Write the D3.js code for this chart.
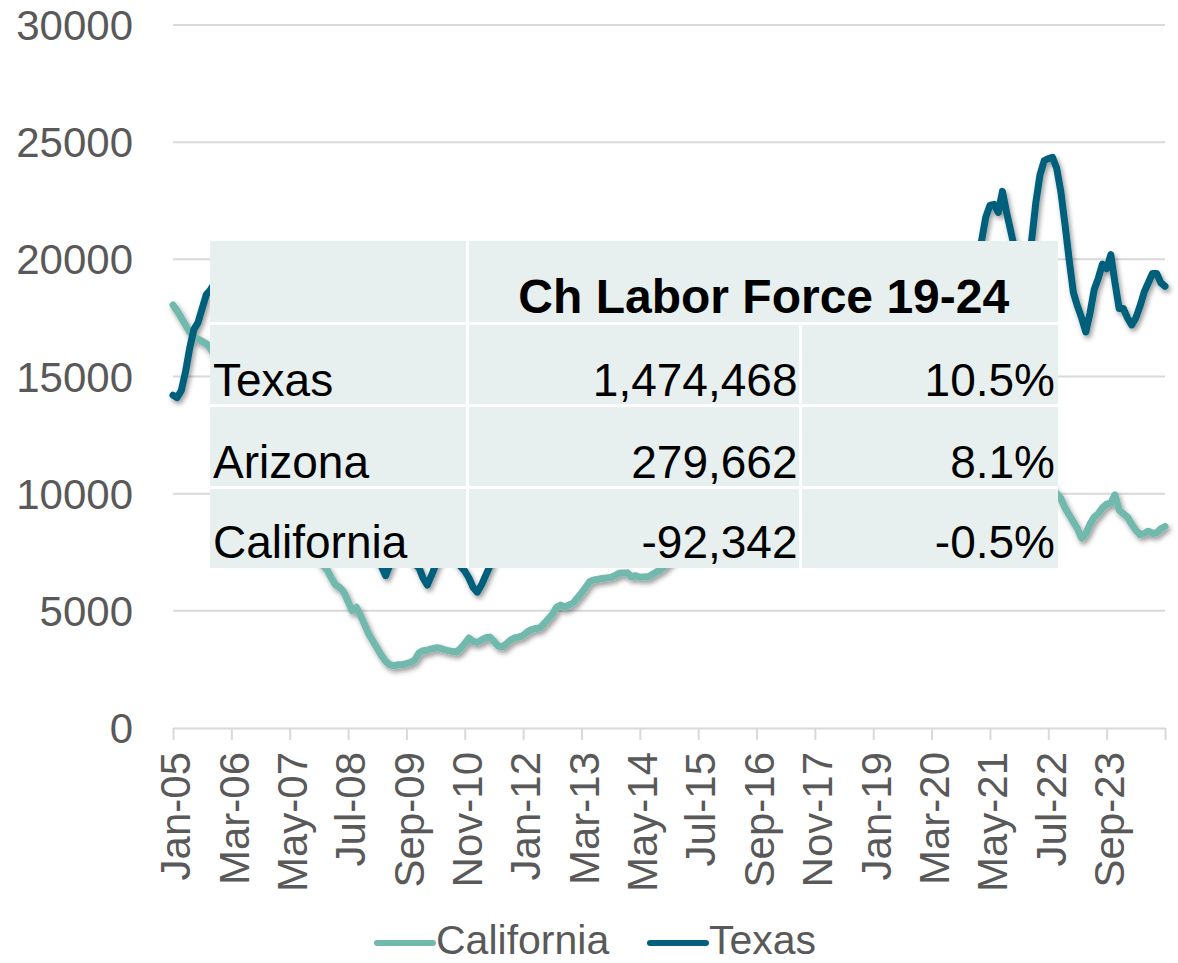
<!DOCTYPE html>
<html>
<head>
<meta charset="utf-8">
<script src="https://cdn.jsdelivr.net/npm/d3@7"></script>
<style>
  html, body { margin: 0; padding: 0; background: #fff; }
  svg { display: block; font-family: "Liberation Sans", Arial, sans-serif; }
</style>
</head>
<body>
<div class="chart"></div>
<script>
// monthly categories Jan-05 .. Nov-24
const months = d3.timeMonth.range(new Date(2005, 0, 1), new Date(2024, 11, 1));
const categories = months.map(d3.timeFormat('%b-%y'));

const tickLabels = ['Jan-05', 'Mar-06', 'May-07', 'Jul-08', 'Sep-09', 'Nov-10', 'Jan-12', 'Mar-13',
  'May-14', 'Jul-15', 'Sep-16', 'Nov-17', 'Jan-19', 'Mar-20', 'May-21', 'Jul-22', 'Sep-23'];
const yTicks = [0, 5000, 10000, 15000, 20000, 25000, 30000];

const california = [
  18050, 17800, 17500, 17200, 16900, 16700, 16600, 16500, 16400, 16200, 15900, 15500, // 2005
  15100, 14700, 14300, 13900, 13500, 13100, 12700, 12300, 11900, 11500, 11200, 10900, // 2006
  10600, 10200, 9900, 9500, 9200, 8900, 8600, 8300, 8000, 7700, 7500, 7200,            // 2007
  6950, 6750, 6400, 6100, 6000, 5800, 5400, 5000, 5150, 4800, 4400, 4000,              // 2008
  3700, 3400, 3100, 2850, 2700, 2650, 2700, 2700, 2750, 2800, 2900, 3200,              // 2009
  3300, 3320, 3380, 3420, 3410, 3350, 3300, 3270, 3240, 3400, 3600, 3840,              // 2010
  3700, 3650, 3750, 3850, 3880, 3700, 3500, 3460, 3600, 3750, 3850, 3880,              // 2011
  3950, 4100, 4200, 4250, 4270, 4450, 4650, 4850, 5150, 5250, 5150, 5250,              // 2012
  5330, 5550, 5760, 6000, 6250, 6320, 6350, 6380, 6400, 6420, 6500, 6600,              // 2013
  6610, 6620, 6450, 6500, 6430, 6450, 6440, 6550, 6660, 6750, 6900, 7100,              // 2014
  7200, 7350, 7500, 7650, 7800, 7950, 8100, 8250, 8350, 8500, 8600, 8750,              // 2015
  8850, 8950, 9100, 9200, 9300, 9400, 9500, 9600, 9700, 9750, 9850, 9900,              // 2016
  10000, 10100, 10150, 10250, 10300, 10400, 10450, 10500, 10600, 10650, 10700, 10800,  // 2017
  10850, 10900, 10950, 11000, 11050, 11100, 11150, 11200, 11250, 11300, 11350, 11400,  // 2018
  11400, 11450, 11500, 11450, 11500, 11550, 11500, 11450, 11400, 11350, 11300, 11250,  // 2019
  11200, 11100, 10500, 9000, 8500, 9200, 9800, 10300, 10700, 11000, 11300, 11500,      // 2020
  11700, 11900, 12100, 12300, 12400, 12500, 12600, 12500, 12400, 12300, 12100, 11900,  // 2021
  11700, 11500, 11300, 11100, 10900, 10600, 10400, 10200, 10000, 9800, 9400, 9100,     // 2022
  8800, 8500, 8100, 8300, 8700, 9000, 9150, 9400, 9550, 9600, 9950, 9300,              // 2023
  9150, 9000, 8700, 8450, 8250, 8300, 8400, 8300, 8330, 8500, 8600                     // 2024
];

const texas = [
  14200, 14100, 14400, 15200, 16200, 17000, 17300, 17900, 18500, 18700, 19000, 19300,  // 2005
  19600, 19900, 19600, 19900, 20300, 20000, 19500, 19800, 19200, 18700, 18900, 18300,  // 2006
  17800, 17200, 17500, 16600, 15900, 15300, 14800, 14100, 13500, 12800, 12200, 11600,  // 2007
  11000, 10500, 10100, 9700, 9200, 8800, 8400, 8100, 7800, 7600, 7500, 7300,           // 2008
  7600, 7200, 6900, 6500, 6950, 7400, 7700, 7800, 7600, 7300, 7000, 6850,              // 2009
  6400, 6100, 6500, 6950, 7300, 7500, 7600, 7400, 7200, 6900, 6700, 6400,              // 2010
  6000, 5800, 6100, 6500, 6900, 7500, 8100, 8600, 9000, 9300, 9700, 10000,             // 2011
  10300, 10700, 11000, 11300, 11100, 11500, 11800, 12100, 12400, 12200, 12600, 12900,  // 2012
  13100, 13400, 13300, 13700, 14000, 14300, 14100, 14500, 14800, 15100, 14900, 15300,  // 2013
  15600, 15900, 16100, 15800, 16300, 16600, 16900, 17100, 16800, 17300, 17500, 17200,  // 2014
  17000, 16700, 16300, 15900, 15600, 15200, 14900, 14600, 14300, 14100, 13900, 13700,  // 2015
  13500, 13300, 13600, 13400, 13200, 13500, 13800, 13600, 13900, 14200, 14000, 14300,  // 2016
  14500, 14800, 14600, 15000, 15300, 15100, 15500, 15800, 15600, 15900, 16200, 16000,  // 2017
  16300, 16600, 16400, 16800, 17100, 16900, 17200, 17500, 17300, 17600, 17400, 17700,  // 2018
  17500, 17800, 17600, 17300, 17500, 17200, 17400, 17100, 16900, 17200, 17000, 16800,  // 2019
  16600, 16900, 15500, 12000, 11000, 12500, 14000, 15200, 16300, 17200, 18100, 18900,  // 2020
  19500, 20100, 20800, 21800, 22300, 22350, 22000, 22900, 22000, 21200, 20400, 19800,  // 2021
  19300, 19800, 20800, 22400, 23600, 24200, 24300, 24350, 23900, 22900, 21500, 20000,  // 2022
  18600, 18000, 17500, 16900, 17700, 18700, 19200, 19800, 19600, 20200, 19000, 17900,  // 2023
  17900, 17500, 17200, 17500, 18000, 18600, 19000, 19400, 19400, 19000, 18850          // 2024
];

const seriesNames = ['California', 'Texas'];
const seriesColors = ['#70B9AC', '#04617B'];

// overlay table
const tableTitle = 'Ch Labor Force 19-24';
const tableStates = ['Texas', 'Arizona', 'California'];
const tableChange = [1474468, 279662, -92342];
const tablePct = [0.105, 0.081, -0.005];

const W = 1178, H = 963;
const plotLeft = 173, plotRight = 1165, plotTop = 25, plotBottom = 728;

const svg = d3.select('.chart').append('svg')
  .attr('width', W)
  .attr('height', H);

const defs = svg.append('defs');
defs.append('filter')
  .attr('id', 'shadow')
  .attr('x', '-5%').attr('y', '-5%').attr('width', '110%').attr('height', '115%')
  .append('feDropShadow')
  .attr('dx', 2).attr('dy', 3).attr('stdDeviation', 2.5)
  .attr('flood-color', '#000').attr('flood-opacity', 0.4);

const x = d3.scalePoint(categories, [plotLeft, plotRight]);
const y = d3.scaleLinear([0, 30000], [plotBottom, plotTop]);

// gridlines
svg.append('g')
  .selectAll('line')
  .data(yTicks.filter(d => d > 0))
  .enter()
  .append('line')
  .attr('x1', plotLeft).attr('x2', plotRight)
  .attr('y1', d => y(d)).attr('y2', d => y(d))
  .attr('stroke', '#D9D9D9')
  .attr('stroke-width', 2);

// y labels
svg.append('g')
  .selectAll('text')
  .data(yTicks)
  .enter()
  .append('text')
  .attr('x', 133)
  .attr('y', d => y(d))
  .attr('dy', '0.36em')
  .attr('text-anchor', 'end')
  .attr('fill', '#595959')
  .style('font-size', '42px')
  .text(d => d);

// x axis
const lastCat = categories[categories.length - 1];
const xAxis = svg.append('g')
  .attr('transform', `translate(0,${plotBottom})`)
  .call(d3.axisBottom(x)
    .tickValues(tickLabels.concat([lastCat]))
    .tickSize(12)
    .tickSizeOuter(0)
    .tickFormat(d => (d === lastCat ? '' : d)));
xAxis.select('.domain').attr('stroke', '#D9D9D9').attr('stroke-width', 2);
xAxis.selectAll('.tick line').attr('stroke', '#D9D9D9').attr('stroke-width', 2);
xAxis.selectAll('.tick text')
  .attr('transform', 'rotate(-90)')
  .attr('text-anchor', 'end')
  .attr('x', -24)
  .attr('y', 0)
  .attr('dy', '0.4em')
  .attr('fill', '#595959')
  .style('font-size', '42px')
  .style('font-family', '"Liberation Sans", Arial, sans-serif');

// lines
const line = d3.line()
  .x((d, i) => x(categories[i]))
  .y(d => y(d));

svg.append('g')
  .attr('filter', 'url(#shadow)')
  .selectAll('path')
  .data([california, texas])
  .enter()
  .append('path')
  .attr('d', d => line(d))
  .attr('fill', 'none')
  .attr('stroke', (d, i) => seriesColors[i])
  .attr('stroke-width', 7)
  .attr('stroke-linejoin', 'round')
  .attr('stroke-linecap', 'round');

// table overlay
const locale = d3.formatLocale({ decimal: '.', thousands: ',', grouping: [3], currency: ['$', ''], minus: '-' });
const fmtNum = locale.format(',');
const fmtPct = locale.format('.1%');

const tX = [210, 467.5, 800.5, 1058];
const tY = [241, 323.5, 405.5, 487.5, 568];
const gap = 1.5;
const table = svg.append('g');
table.append('rect')
  .attr('x', tX[0]).attr('y', tY[0])
  .attr('width', tX[3] - tX[0]).attr('height', tY[4] - tY[0])
  .attr('fill', '#fff');

const cells = [];
cells.push({ x0: tX[0], x1: tX[1], r: 0 });
cells.push({ x0: tX[1], x1: tX[3], r: 0 });
for (let r = 1; r <= 3; r++) {
  for (let c = 0; c < 3; c++) cells.push({ x0: tX[c], x1: tX[c + 1], r });
}
table.selectAll('rect.cell')
  .data(cells)
  .enter()
  .append('rect')
  .attr('class', 'cell')
  .attr('x', d => (d.x0 === tX[0] ? d.x0 : d.x0 + gap))
  .attr('y', d => (d.r === 0 ? tY[0] : tY[d.r] + gap))
  .attr('width', d => (d.x1 - d.x0) - (d.x0 === tX[0] ? 0 : gap) - (d.x1 === tX[3] ? 0 : gap))
  .attr('height', d => (tY[d.r + 1] - tY[d.r]) - (d.r === 0 ? 0 : gap) - (d.r === 3 ? 0 : gap))
  .attr('fill', '#E8F0EF');

table.append('text')
  .attr('x', (tX[1] + tX[3]) / 2 + 1)
  .attr('y', tY[1] - 11)
  .attr('text-anchor', 'middle')
  .attr('font-weight', 'bold')
  .style('font-size', '48px')
  .attr('fill', '#000')
  .text(tableTitle);

const rows = table.selectAll('g.row')
  .data(tableStates)
  .enter()
  .append('g')
  .attr('class', 'row')
  .style('font-size', '46px')
  .attr('fill', '#000');
rows.append('text')
  .attr('x', 213)
  .attr('y', (d, i) => tY[i + 2] - 10)
  .text(d => d);
rows.append('text')
  .attr('x', tX[2] - 3)
  .attr('y', (d, i) => tY[i + 2] - 10)
  .attr('text-anchor', 'end')
  .text((d, i) => fmtNum(tableChange[i]));
rows.append('text')
  .attr('x', tX[3] - 3)
  .attr('y', (d, i) => tY[i + 2] - 10)
  .attr('text-anchor', 'end')
  .text((d, i) => fmtPct(tablePct[i]));

// legend
const legendX = [377, 650];
const legend = svg.append('g')
  .selectAll('g')
  .data(seriesNames)
  .enter()
  .append('g')
  .attr('transform', (d, i) => `translate(${legendX[i]},943)`);
legend.append('line')
  .attr('x1', 0).attr('x2', 56)
  .attr('stroke', (d, i) => seriesColors[i])
  .attr('stroke-width', 6)
  .attr('stroke-linecap', 'round');
legend.append('text')
  .attr('x', 59)
  .attr('y', 11)
  .attr('fill', '#595959')
  .style('font-size', '41px')
  .text(d => d);
</script>
</body>
</html>
